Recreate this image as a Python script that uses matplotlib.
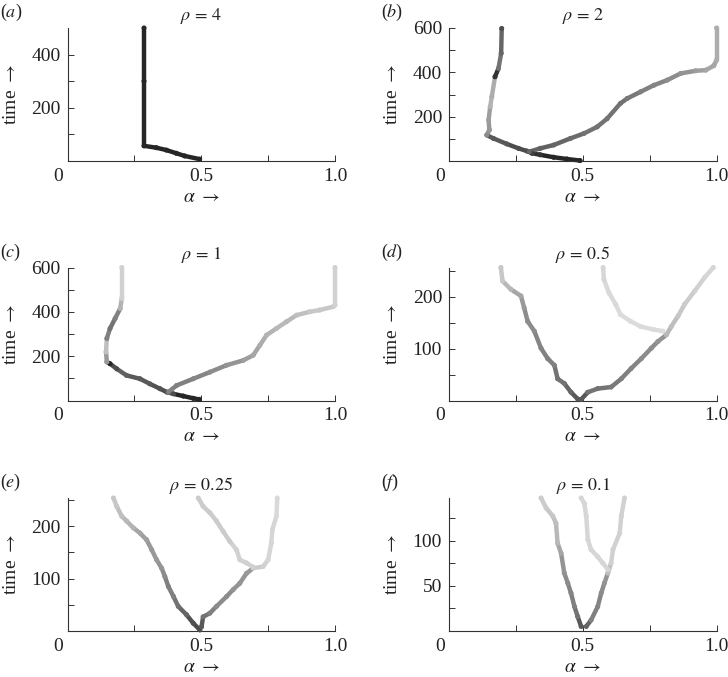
import matplotlib
matplotlib.use("Agg")
import matplotlib.pyplot as plt
import matplotlib.transforms as mtransforms

plt.rcParams['font.family'] = ['Liberation Serif', 'DejaVu Serif']
plt.rcParams['mathtext.fontset'] = 'stix'

# values: (alpha, time, grey) along each branch
# (a) rho = 4
a1_alpha = [0.286, 0.286, 0.286, 0.332, 0.37, 0.407, 0.438, 0.494]
a1_time = [500, 300, 57, 50, 41, 29, 19, 7]
a1_grey = [0.15, 0.15, 0.15, 0.15, 0.15, 0.15, 0.15, 0.15]

# (b) rho = 2
b1_alpha = [0.49, 0.441, 0.391, 0.341, 0.31, 0.291, 0.26, 0.216, 0.166, 0.141,
            0.151, 0.148, 0.154, 0.160, 0.172, 0.185, 0.195, 0.197]
b1_time = [2, 9, 17, 28, 35, 45, 57, 77, 102, 117, 140, 185, 245, 290, 380, 418, 486, 598]
b1_grey = [0.15, 0.15, 0.15, 0.2, 0.25, 0.3, 0.3, 0.35, 0.35, 0.55, 0.6, 0.62, 0.7,
           0.68, 0.2, 0.45, 0.4, 0.3]
b2_alpha = [0.30, 0.341, 0.391, 0.454, 0.504, 0.554, 0.591, 0.641, 0.666, 0.716,
            0.766, 0.816, 0.866, 0.922, 0.96, 0.99, 1.0, 1.0]
b2_time = [42, 57, 72, 102, 124, 154, 191, 260, 282, 312, 342, 365, 395, 407, 410, 430, 455, 600]
b2_grey = [0.4, 0.38, 0.4, 0.42, 0.45, 0.45, 0.45, 0.45, 0.47, 0.5, 0.52, 0.55, 0.58,
           0.62, 0.65, 0.65, 0.68, 0.68]

# (c) rho = 1
c1_alpha = [0.493, 0.47, 0.433, 0.396, 0.371, 0.346, 0.308, 0.271, 0.221, 0.184,
            0.159, 0.147, 0.144, 0.147, 0.159, 0.178, 0.197, 0.203, 0.203]
c1_time = [5, 10, 20, 30, 38, 53, 75, 98, 113, 143, 166, 174, 219, 280, 325, 370, 415, 461, 600]
c1_grey = [0.15, 0.15, 0.15, 0.3, 0.3, 0.32, 0.35, 0.35, 0.38, 0.3, 0.15, 0.6, 0.75,
           0.5, 0.45, 0.5, 0.7, 0.82, 0.82]
c2_alpha = [0.377, 0.408, 0.47, 0.532, 0.594, 0.657, 0.694, 0.719, 0.744, 0.781,
            0.818, 0.856, 0.905, 0.943, 0.993, 1.0, 1.0]
c2_time = [38, 68, 98, 128, 159, 181, 204, 249, 295, 325, 355, 385, 400, 408, 423, 430, 600]
c2_grey = [0.5, 0.5, 0.52, 0.55, 0.58, 0.62, 0.65, 0.68, 0.7, 0.72, 0.72, 0.75, 0.78,
           0.78, 0.8, 0.82, 0.82]

# (d) rho = 0.5
d1_alpha = [0.481, 0.456, 0.431, 0.406, 0.394, 0.369, 0.344, 0.319, 0.294, 0.281,
            0.269, 0.231, 0.2, 0.194]
d1_time = [3, 16, 33, 42, 68, 81, 101, 134, 153, 179, 202, 215, 231, 257]
d1_grey = [0.35, 0.4, 0.45, 0.45, 0.5, 0.5, 0.52, 0.55, 0.55, 0.6, 0.65, 0.72, 0.78, 0.78]
d2_alpha = [0.494, 0.519, 0.556, 0.606, 0.644, 0.681, 0.719, 0.756, 0.781, 0.813,
            0.831, 0.856, 0.881, 0.919, 0.956, 0.988]
d2_time = [2, 16, 23, 26, 42, 62, 81, 101, 114, 127, 143, 163, 186, 212, 238, 257]
d2_grey = [0.35, 0.45, 0.45, 0.48, 0.5, 0.52, 0.55, 0.55, 0.58, 0.72, 0.75, 0.78, 0.8,
           0.82, 0.84, 0.84]
d3_alpha = [0.8, 0.766, 0.716, 0.679, 0.641, 0.623, 0.598, 0.579, 0.576]
d3_time = [134, 137, 143, 153, 166, 186, 208, 234, 257]
d3_grey = [0.86, 0.86, 0.86, 0.86, 0.86, 0.85, 0.85, 0.84, 0.84]

# (e) rho = 0.25
e1_alpha = [0.495, 0.47, 0.445, 0.414, 0.396, 0.377, 0.364, 0.352, 0.333, 0.315,
            0.296, 0.271, 0.246, 0.221, 0.203, 0.184, 0.172]
e1_time = [2, 15, 31, 47, 66, 85, 104, 120, 136, 155, 174, 187, 197, 210, 219, 238, 254]
e1_grey = [0.3, 0.32, 0.4, 0.45, 0.5, 0.5, 0.55, 0.58, 0.6, 0.6, 0.62, 0.65, 0.7,
           0.72, 0.75, 0.78, 0.78]
e2_alpha = [0.501, 0.507, 0.532, 0.557, 0.595, 0.619, 0.644, 0.669, 0.694, 0.731,
            0.75, 0.762, 0.766, 0.781, 0.784]
e2_time = [8, 27, 34, 47, 66, 79, 91, 110, 120, 123, 136, 168, 194, 219, 254]
e2_grey = [0.35, 0.45, 0.5, 0.55, 0.55, 0.58, 0.58, 0.6, 0.8, 0.82, 0.84, 0.84, 0.84,
           0.85, 0.85]
e3_alpha = [0.694, 0.669, 0.644, 0.632, 0.607, 0.582, 0.557, 0.532, 0.507, 0.489]
e3_time = [122, 130, 136, 155, 171, 190, 210, 226, 238, 254]
e3_grey = [0.82, 0.82, 0.82, 0.82, 0.8, 0.8, 0.8, 0.8, 0.8, 0.8]

# (f) rho = 0.1
f1_alpha = [0.494, 0.481, 0.469, 0.456, 0.444, 0.431, 0.419, 0.406, 0.4, 0.388, 0.363, 0.344]
f1_time = [5, 16, 27, 42, 53, 64, 86, 97, 119, 127, 136, 147]
f1_grey = [0.35, 0.45, 0.5, 0.52, 0.55, 0.58, 0.65, 0.72, 0.75, 0.78, 0.8, 0.8]
f2_alpha = [0.513, 0.531, 0.556, 0.569, 0.581, 0.594, 0.606, 0.613, 0.638, 0.644, 0.656]
f2_time = [5, 12, 27, 42, 53, 64, 75, 90, 108, 127, 147]
f2_grey = [0.4, 0.5, 0.52, 0.55, 0.58, 0.75, 0.82, 0.82, 0.82, 0.82, 0.82]
f3_alpha = [0.594, 0.575, 0.556, 0.531, 0.519, 0.513, 0.506, 0.494]
f3_time = [68, 75, 82, 90, 101, 127, 141, 147]
f3_grey = [0.84, 0.84, 0.84, 0.84, 0.84, 0.84, 0.84, 0.84]

panel_letters = ['a', 'b', 'c', 'd', 'e', 'f']
rho_labels = ['4', '2', '1', '0.5', '0.25', '0.1']
time_max = [500, 600, 600, 257, 254, 147]
time_major = [[200, 400], [200, 400, 600], [200, 400, 600], [100, 200], [100, 200], [50, 100]]
time_minor = [[100, 300], [100, 300, 500], [100, 300, 500], [50, 150, 250], [50, 150, 250], [25, 75, 125]]
branches = [
    [(a1_alpha, a1_time, a1_grey)],
    [(b1_alpha, b1_time, b1_grey), (b2_alpha, b2_time, b2_grey)],
    [(c1_alpha, c1_time, c1_grey), (c2_alpha, c2_time, c2_grey)],
    [(d1_alpha, d1_time, d1_grey), (d2_alpha, d2_time, d2_grey), (d3_alpha, d3_time, d3_grey)],
    [(e1_alpha, e1_time, e1_grey), (e2_alpha, e2_time, e2_grey), (e3_alpha, e3_time, e3_grey)],
    [(f1_alpha, f1_time, f1_grey), (f2_alpha, f2_time, f2_grey), (f3_alpha, f3_time, f3_grey)],
]

W, H = 728, 677
fig = plt.figure(figsize=(W / 100, H / 100), dpi=100)

lefts = [67.5, 449]
tops = [28, 267.5, 498]
aw, ah = 267.5, 133
fs = 14

for k in range(6):
    row, col = k // 2, k % 2
    ax = fig.add_axes([lefts[col] / W, 1 - (tops[row] + ah) / H, aw / W, ah / H])

    for xs, ys, gs in branches[k]:
        for i in range(len(xs) - 1):
            ax.plot(xs[i:i + 2], ys[i:i + 2], color=str(gs[i]), lw=3.2,
                    solid_capstyle='round', clip_on=False)
        ax.scatter(xs, ys, c=[str(g) for g in gs], s=13, linewidths=0, clip_on=False, zorder=3)

    ax.set_xlim(0, 1)
    ax.set_ylim(0, time_max[k])
    for side in ['top', 'right']:
        ax.spines[side].set_visible(False)
    for side in ['left', 'bottom']:
        ax.spines[side].set_linewidth(0.8)
        ax.spines[side].set_color('#333333')

    ax.set_xticks([0, 0.5, 1.0])
    ax.set_xticklabels(['0', '0.5', '1.0'])
    ax.set_xticks([0.25, 0.75], minor=True)
    ax.set_yticks(time_major[k])
    ax.set_yticks(time_minor[k], minor=True)
    ax.tick_params(which='both', direction='in', length=4, width=0.7, color='#333333',
                   labelsize=fs, labelcolor='#222222')
    ax.tick_params(axis='x', pad=5)
    ax.tick_params(axis='y', pad=5)

    # the "0" on the alpha axis sits a little to the left in the reference
    lab0 = ax.get_xticklabels()[0]
    lab0.set_transform(lab0.get_transform() +
                       mtransforms.ScaledTranslation(-9 / 100, 0, fig.dpi_scale_trans))

    ax.set_xlabel(r'$\alpha\ \rightarrow$', fontsize=fs, color='#222222')
    ax.xaxis.set_label_coords(0.5, -0.21)
    ax.set_ylabel(r'time $\rightarrow$', fontsize=fs, color='#222222')
    ax.yaxis.set_label_coords(-0.21, 0.5)
    ax.yaxis.label.set_va('center')

    ax.set_title(r'$\rho\,{=}\,' + rho_labels[k] + '$', fontsize=13, pad=6, color='#222222')
    ax.text(-0.252 if col == 0 else -0.255, 1.115, '($' + panel_letters[k] + '$)',
            transform=ax.transAxes, fontsize=13, ha='left', va='center', color='#222222')

fig.savefig('out.png', dpi=100)
